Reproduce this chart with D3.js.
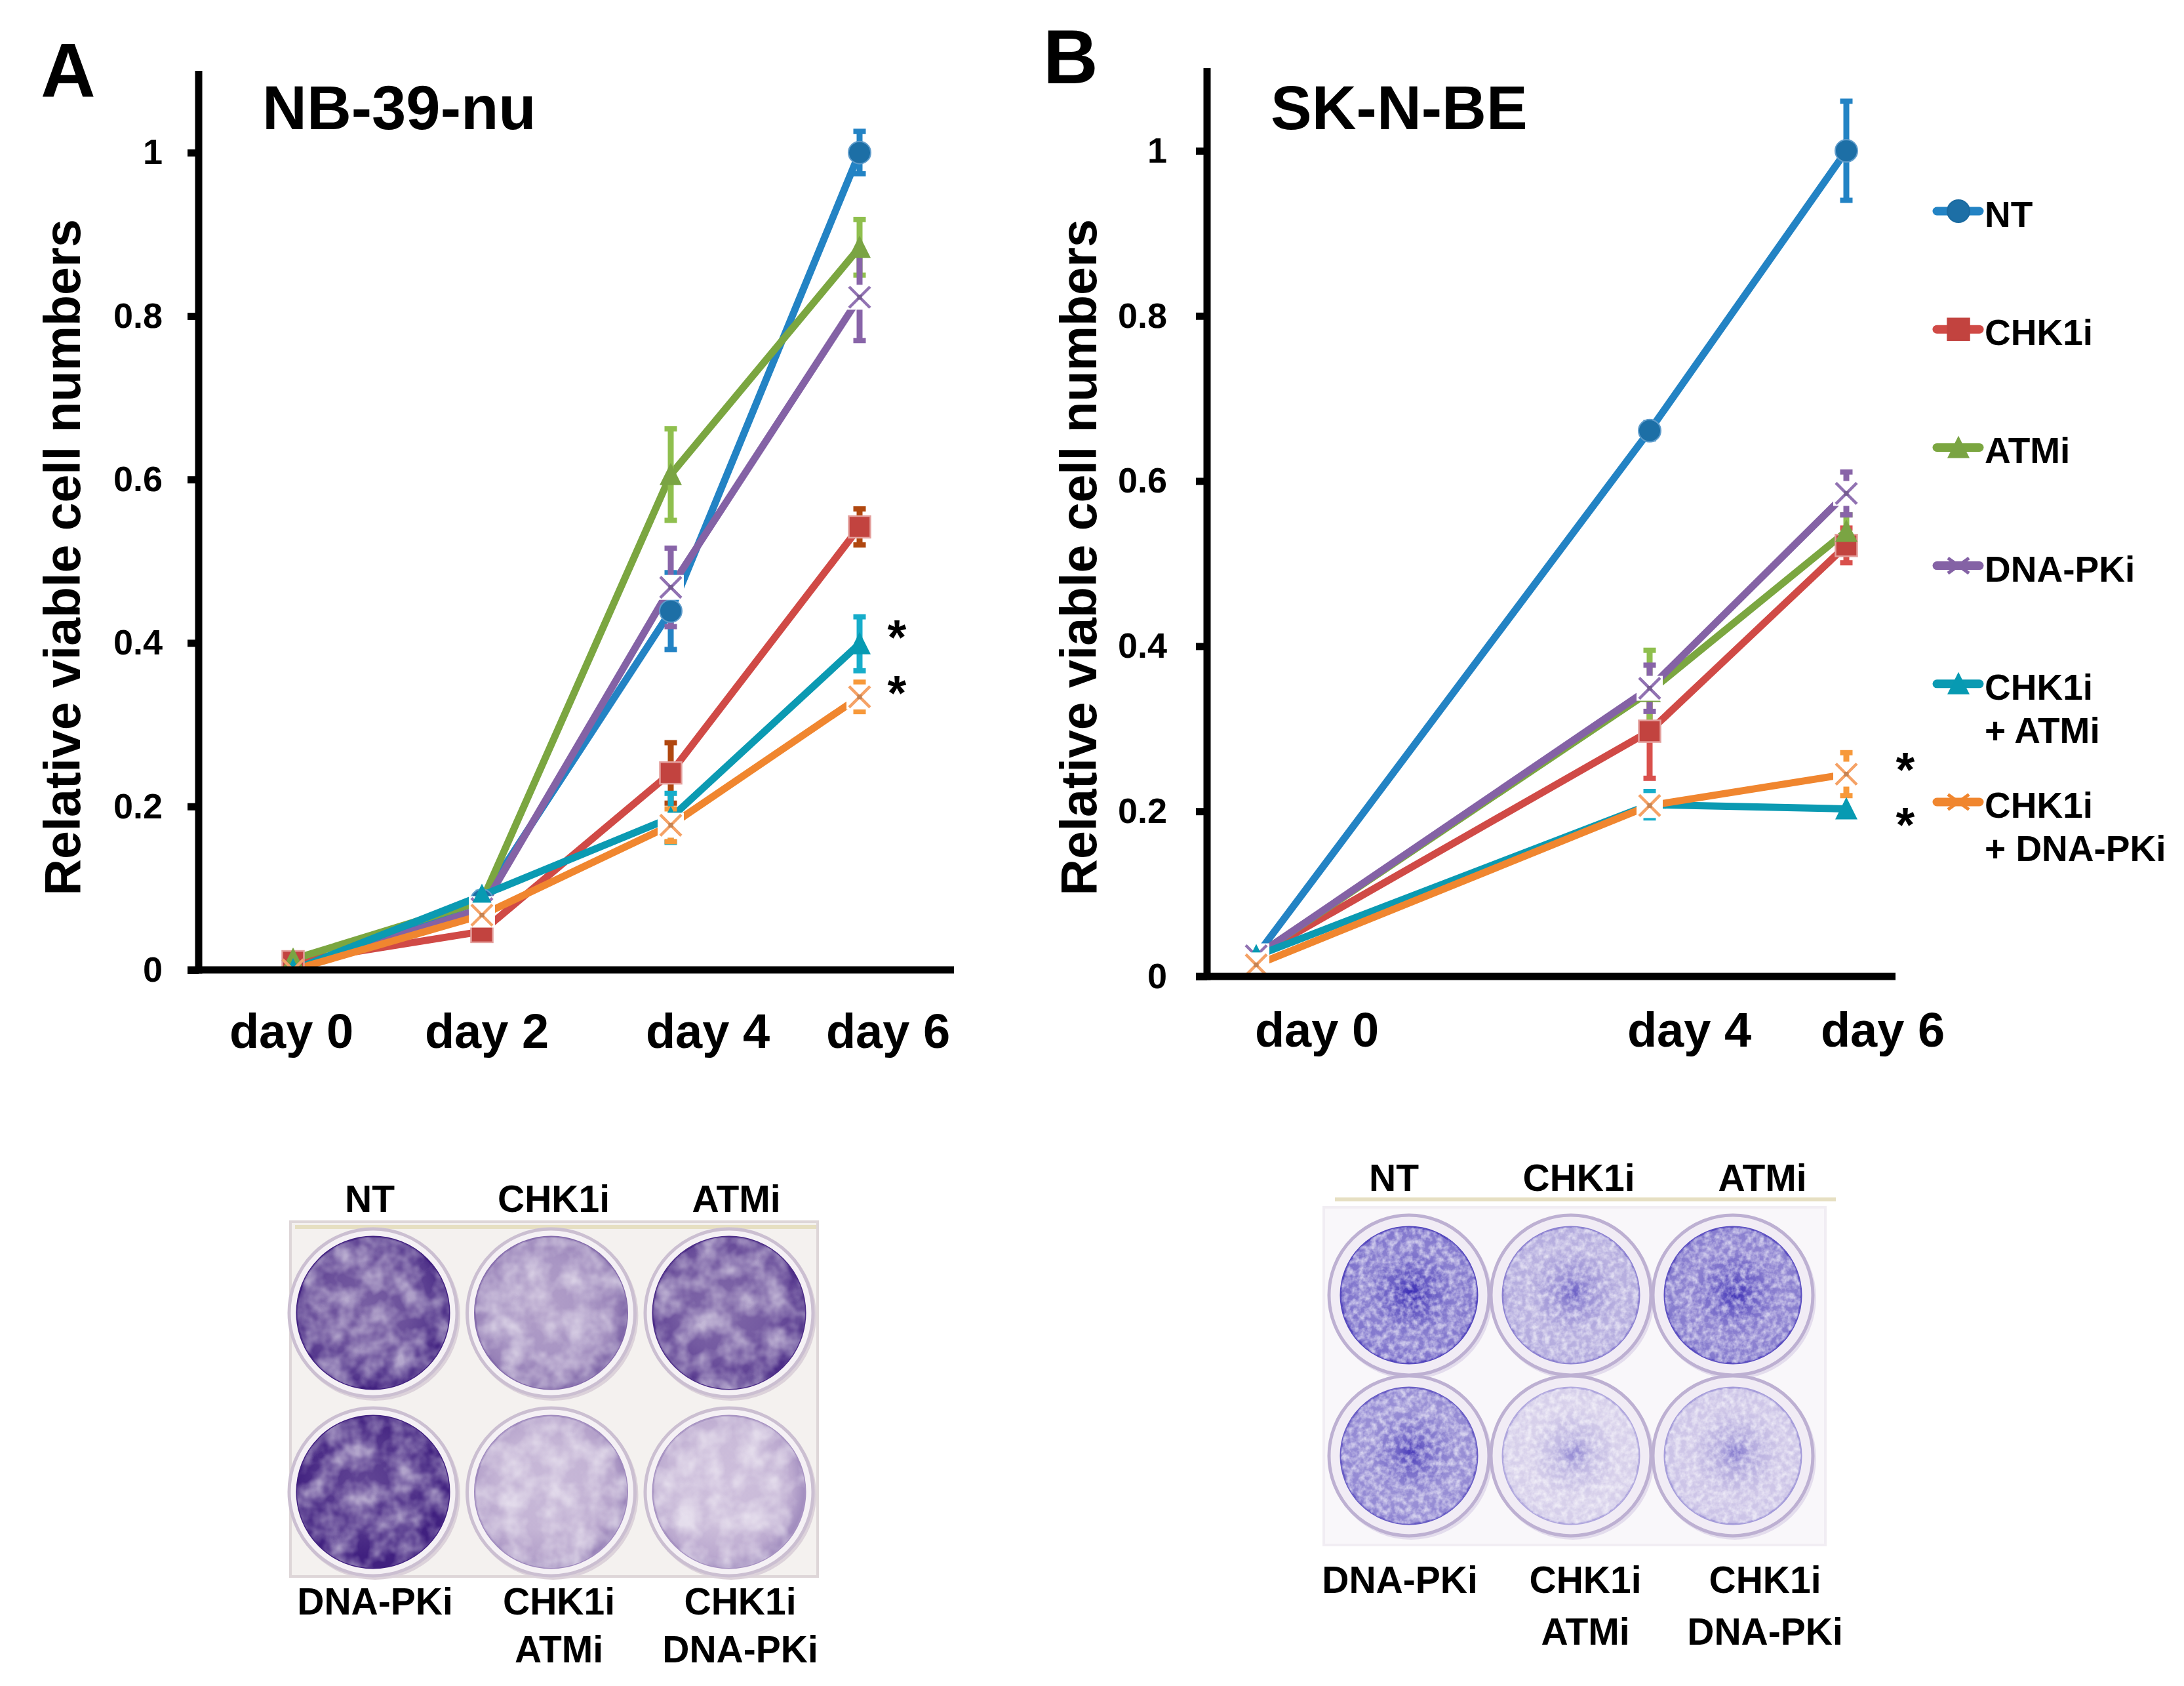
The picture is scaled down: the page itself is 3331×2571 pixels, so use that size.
<!DOCTYPE html>
<html><head><meta charset="utf-8">
<script src="https://cdn.jsdelivr.net/npm/d3@7"></script>
<style>
html,body{margin:0;padding:0;background:#fff;}
svg{display:block;}
text{font-family:"Liberation Sans",Arial,Helvetica,sans-serif;font-weight:bold;fill:#000;}
</style>
</head><body>
<svg id="c" width="3331" height="2571"></svg>
<script>
// ---------------- DATA ----------------
const seriesNames = ["NT", "CHK1i", "ATMi", "DNA-PKi", "CHK1i + ATMi", "CHK1i + DNA-PKi"];
const legendLines = [["NT"], ["CHK1i"], ["ATMi"], ["DNA-PKi"], ["CHK1i", "+ ATMi"], ["CHK1i", "+ DNA-PKi"]];
const yTicks = [0, 0.2, 0.4, 0.6, 0.8, 1];

// Panel A : NB-39-nu
const daysA = [0, 2, 4, 6];
const dayLabelsA = ["day 0", "day 2", "day 4", "day 6"];
const valuesA = [
  [0.000, 0.085, 0.439, 1.000],
  [0.010, 0.047, 0.241, 0.542],
  [0.013, 0.084, 0.606, 0.884],
  [0.000, 0.075, 0.468, 0.823],
  [0.000, 0.091, 0.186, 0.399],
  [0.000, 0.067, 0.177, 0.334]
];
const errorsA = [
  [0, 0, 0.047, 0.026],
  [0, 0.010, 0.037, 0.022],
  [0, 0, 0.056, 0.034],
  [0, 0, 0.048, 0.053],
  [0, 0.004, 0.030, 0.033],
  [0, 0, 0.020, 0.018]
];
const starsA = [4, 5];   // series marked significant at day 6

// Panel B : SK-N-BE
const daysB = [0, 4, 6];
const dayLabelsB = ["day 0", "day 4", "day 6"];
const valuesB = [
  [0.025, 0.661, 1.000],
  [0.025, 0.297, 0.522],
  [0.025, 0.345, 0.539],
  [0.025, 0.349, 0.585],
  [0.025, 0.208, 0.203],
  [0.014, 0.207, 0.245]
];
const errorsB = [
  [0, 0.010, 0.060],
  [0, 0.057, 0.021],
  [0, 0.050, 0.020],
  [0, 0.028, 0.026],
  [0.005, 0.016, 0],
  [0, 0, 0.026]
];
const starsB = [5, 4];

// crystal-violet plates (stain density, 0..1)
const wellTop = ["NT", "CHK1i", "ATMi"];
const wellBottom = [["DNA-PKi"], ["CHK1i", "ATMi"], ["CHK1i", "DNA-PKi"]];
const stainA = [[0.80, 0.42, 0.74], [0.95, 0.26, 0.22]];
const stainB = [[0.66, 0.36, 0.62], [0.55, 0.16, 0.22]];

// ---------------- STYLE ----------------
const lineColors   = ["#2383c4", "#d04a46", "#7ba640", "#8462a5", "#0b9ab2", "#f0862f"];
const markerColors = ["#1d6fa6", "#c2433f", "#7aa443", "#9172b2", "#079ab2", "#f5a266"];
const errColorsA   = ["#2383c4", "#b0470f", "#8fbf4e", "#8864a8", "#16adca", "#f7993a"];
const errColorsB   = ["#2383c4", "#d9504c", "#8fbf4e", "#8864a8", "#16adca", "#f7993a"];
const shapes = ["circle", "square", "triangle", "x", "triangle", "x"];

const svg = d3.select("#c");
svg.append("rect").attr("width", 3331).attr("height", 2571).attr("fill", "#fff");
const defs = svg.append("defs");

function fmtTick(d) { return (d === 0 || d === 1) ? String(d) : d.toFixed(1); }

function drawMarker(g, shape, cx, cy, color, legend, box) {
  if (shape === "circle") {
    g.append("circle").attr("cx", cx).attr("cy", cy).attr("r", 17).attr("fill", color)
      .attr("stroke", legend ? "#1a6aa0" : "#5f9ccb").attr("stroke-width", 2);
  } else if (shape === "square") {
    g.append("rect").attr("x", cx - 16.5).attr("y", cy - 16.5).attr("width", 33).attr("height", 33)
      .attr("fill", color).attr("stroke", legend ? "#c2433f" : "#e4a09d").attr("stroke-width", 2.5);
  } else if (shape === "triangle") {
    g.append("path").attr("d", `M${cx},${cy - 18}L${cx + 17},${cy + 16}L${cx - 17},${cy + 16}Z`)
      .attr("fill", color);
  } else {
    if (box) {
      g.append("rect").attr("x", cx - 20).attr("y", cy - 19).attr("width", 40).attr("height", 38).attr("fill", "#fff");
    }
    const s = 16, k = legend ? 0.72 : 1;
    g.append("path").attr("d", `M${cx - s},${cy - s * k}L${cx + s},${cy + s * k}M${cx - s},${cy + s * k}L${cx + s},${cy - s * k}`)
      .attr("stroke", color).attr("stroke-width", legend ? 5 : 4.5).attr("fill", "none");
    if (!legend) g.append("rect").attr("x", cx - 3.5).attr("y", cy - 3.5).attr("width", 7).attr("height", 7).attr("fill", d3.color(color).darker(0.6));
  }
}

function drawPanel(cfg) {
  const g = svg.append("g");
  const x = d3.scaleLinear().domain(cfg.xDomain).range([cfg.x0, cfg.x1]);
  const y = d3.scaleLinear().domain([0, 1.1]).range([cfg.yBottom, cfg.yTop]);

  // plot-area clip (marks are clipped at the x axis, as in the original)
  defs.append("clipPath").attr("id", cfg.id + "clip").append("rect")
    .attr("x", cfg.x0).attr("y", cfg.yTop - 60).attr("width", cfg.x1 - cfg.x0 + 60).attr("height", cfg.yBottom - cfg.yTop + 60);

  // panel letter and title
  g.append("text").attr("x", cfg.letter.x).attr("y", cfg.letter.y).attr("font-size", 116).text(cfg.letter.t);
  g.append("text").attr("x", cfg.title.x).attr("y", cfg.title.y).attr("font-size", 94).text(cfg.title.t);

  // y title
  g.append("text").attr("transform", `translate(${cfg.ylabelX},${cfg.ylabelY}) rotate(-90)`)
    .attr("text-anchor", "middle").attr("font-size", 77).text("Relative viable cell numbers");

  const plot = g.append("g").attr("clip-path", `url(#${cfg.id}clip)`);
  // lines
  const line = d3.line().x((d, i) => x(cfg.days[i])).y(d => y(d));
  cfg.values.forEach((vals, s) => {
    plot.append("path").datum(vals).attr("d", line).attr("fill", "none")
      .attr("stroke", lineColors[s]).attr("stroke-width", 11).attr("stroke-linejoin", "round");
  });
  // error bars
  cfg.values.forEach((vals, s) => {
    vals.forEach((v, i) => {
      const e = cfg.errors[s][i];
      if (!e) return;
      const cx = x(cfg.days[i]);
      const col = cfg.errColors[s];
      plot.append("line").attr("x1", cx).attr("x2", cx).attr("y1", y(v + e)).attr("y2", y(v - e))
        .attr("stroke", col).attr("stroke-width", 9);
      [v + e, v - e].forEach(t => {
        plot.append("line").attr("x1", cx - 9.5).attr("x2", cx + 9.5).attr("y1", y(t)).attr("y2", y(t))
          .attr("stroke", col).attr("stroke-width", 8);
      });
    });
  });
  // markers
  cfg.values.forEach((vals, s) => {
    vals.forEach((v, i) => drawMarker(plot, shapes[s], x(cfg.days[i]), y(v), markerColors[s], false, v > 0.005));
  });

  // y axis
  const ya = g.append("g").attr("transform", `translate(${cfg.x0},0)`)
    .call(d3.axisLeft(y).tickValues(yTicks).tickFormat(fmtTick).tickSize(17).tickPadding(cfg.tickPad));
  ya.select(".domain").remove();
  ya.selectAll(".tick line").attr("stroke", "#000").attr("stroke-width", 11);
  ya.selectAll(".tick text").attr("font-size", 54).attr("font-family", null).attr("fill", "#000");

  // x axis labels
  const xa = g.append("g").attr("transform", `translate(0,${cfg.yBottom})`)
    .call(d3.axisBottom(x).tickValues(cfg.days).tickSize(0).tickFormat((d, i) => cfg.dayLabels[i]));
  xa.select(".domain").remove();
  xa.selectAll(".tick text").attr("font-size", 74).attr("font-family", null).attr("fill", "#000")
    .attr("dy", 0).attr("y", cfg.labelBaseline - cfg.yBottom)
    .attr("dx", (d, i) => cfg.labelShift[i]);

  // axis lines
  g.append("line").attr("x1", cfg.x0).attr("x2", cfg.x0).attr("y1", cfg.yTop).attr("y2", cfg.yBottom + 5.5)
    .attr("stroke", "#000").attr("stroke-width", 11);
  g.append("line").attr("x1", cfg.x0 - 17).attr("x2", cfg.x1).attr("y1", cfg.yBottom).attr("y2", cfg.yBottom)
    .attr("stroke", "#000").attr("stroke-width", 11);

  // significance asterisks
  const last = cfg.days.length - 1;
  cfg.stars.forEach((s, k) => {
    g.append("text").attr("text-anchor", "middle").attr("font-size", 74)
      .attr("x", x(cfg.days[last]) + cfg.starDx)
      .attr("y", y(cfg.values[s][last]) + cfg.starDy[k] + 38).text("*");
  });
  return {x, y};
}

drawPanel({
  id: "pA", x0: 303, x1: 1455, yTop: 108, yBottom: 1479, xDomain: [-1, 7],
  days: daysA, dayLabels: dayLabelsA, values: valuesA, errors: errorsA, errColors: errColorsA,
  tickPad: 38, labelBaseline: 1598, labelShift: [-3, 7, 56, 43],
  ylabelX: 122, ylabelY: 850,
  letter: {x: 62, y: 148, t: "A"}, title: {x: 400, y: 197, t: "NB-39-nu"},
  stars: starsA, starDx: 57, starDy: [-23, -19]
});
drawPanel({
  id: "pB", x0: 1841, x1: 2891, yTop: 104, yBottom: 1489, xDomain: [-0.5, 6.5],
  days: daysB, dayLabels: dayLabelsB, values: valuesB, errors: errorsB, errColors: errColorsB,
  tickPad: 44, labelBaseline: 1596, labelShift: [92, 60, 55],
  ylabelX: 1672, ylabelY: 850,
  letter: {x: 1591, y: 127, t: "B"}, title: {x: 1938, y: 197, t: "SK-N-BE"},
  stars: starsB, starDx: 90, starDy: [-20, 12]
});

// legend
const lg = svg.append("g");
const ly = d3.scaleLinear().domain([0, 5]).range([322, 1223]);
seriesNames.forEach((name, s) => {
  const yy = ly(s);
  lg.append("line").attr("x1", 2954).attr("x2", 3019).attr("y1", yy).attr("y2", yy)
    .attr("stroke", lineColors[s]).attr("stroke-width", 13).attr("stroke-linecap", "round");
  drawMarker(lg, shapes[s], 2987, yy, shapes[s] === "x" ? lineColors[s] : markerColors[s], true, false);
  legendLines[s].forEach((t, k) => {
    lg.append("text").attr("x", 3027).attr("y", yy + 24 + k * 66).attr("font-size", 55).text(t);
  });
});

// ---------------- PLATES ----------------
function grainFilter(id, freq, seed, gain, bias) {
  const f = defs.append("filter").attr("id", id).attr("x", 0).attr("y", 0).attr("width", "100%").attr("height", "100%");
  f.append("feTurbulence").attr("type", "fractalNoise").attr("baseFrequency", freq).attr("numOctaves", 3)
    .attr("seed", seed).attr("result", "n");
  f.append("feColorMatrix").attr("in", "n").attr("type", "matrix")
    .attr("values", `0 0 0 0 1  0 0 0 0 1  0 0 0 0 1  ${gain} 0 0 0 ${bias}`).attr("result", "w");
  f.append("feComposite").attr("in", "w").attr("in2", "SourceGraphic").attr("operator", "in");
}
grainFilter("grainA", 0.03, 4, 1.9, -0.6);
grainFilter("grainB", 0.11, 9, 2.2, -0.75);

function drawPlate(cfg) {
  const g = svg.append("g");
  const cx = d3.scalePoint().domain([0, 1, 2]).range(cfg.cols);
  const cy = d3.scalePoint().domain([0, 1]).range(cfg.rows);
  const mix = d3.interpolateRgb(cfg.light, cfg.dark);

  g.append("rect").attr("x", cfg.box[0]).attr("y", cfg.box[1]).attr("width", cfg.box[2] - cfg.box[0])
    .attr("height", cfg.box[3] - cfg.box[1]).attr("fill", cfg.plateFill).attr("stroke", cfg.plateEdge).attr("stroke-width", 4);
  g.append("line").attr("x1", cfg.topLine[0]).attr("x2", cfg.topLine[1]).attr("y1", cfg.topLine[2]).attr("y2", cfg.topLine[2])
    .attr("stroke", "#e6dfc2").attr("stroke-width", 6);

  cfg.stain.forEach((row, r) => row.forEach((s, c) => {
    const X = cx(c), Y = cy(r);
    const id = `${cfg.id}_${r}_${c}`;
    const gr = defs.append("radialGradient").attr("id", id).attr("cx", cfg.spot ? "52%" : "45%").attr("cy", cfg.spot ? "48%" : "45%").attr("r", "55%");
    const stops = cfg.spot
      ? [[0, Math.min(1, s + 0.38)], [0.22, Math.min(1, s + 0.12)], [0.6, s * 0.85], [0.9, s * 0.95], [1, Math.min(1, s + 0.1)]]
      : [[0, s * 0.85], [0.55, s * 0.95], [0.85, Math.min(1, s + 0.08)], [1, Math.min(1, s + 0.22)]];
    stops.forEach(([o, v]) => gr.append("stop").attr("offset", o).attr("stop-color", mix(v)));

    g.append("circle").attr("cx", X + 3).attr("cy", Y + 4).attr("r", cfg.r + 2).attr("fill", cfg.rimShadow);
    g.append("circle").attr("cx", X).attr("cy", Y).attr("r", cfg.r).attr("fill", cfg.rimFill)
      .attr("stroke", cfg.rimStroke).attr("stroke-width", 5);
    g.append("circle").attr("cx", X).attr("cy", Y).attr("r", cfg.rIn).attr("fill", `url(#${id})`)
      .attr("stroke", mix(Math.min(1, s + 0.2))).attr("stroke-width", 3);
    g.append("circle").attr("cx", X).attr("cy", Y).attr("r", cfg.rIn).attr("fill", "#fff")
      .attr("opacity", cfg.grainOpacity).attr("filter", `url(#${cfg.grain})`);
  }));

  wellTop.forEach((t, c) => {
    g.append("text").attr("x", cx(c) + cfg.topShift[c]).attr("y", cfg.topBase).attr("text-anchor", "middle")
      .attr("font-size", 57).text(t);
  });
  wellBottom.forEach((lines, c) => {
    lines.forEach((t, k) => {
      g.append("text").attr("x", cx(c) + cfg.botShift[c]).attr("y", cfg.botBase[k]).attr("text-anchor", "middle")
        .attr("font-size", 57).text(t);
    });
  });
}

drawPlate({
  id: "pa", stain: stainA, cols: [569, 1112], rows: [2002, 2275], r: 128, rIn: 116,
  box: [443, 1863, 1247, 2404], plateFill: "#f4f1ef", plateEdge: "#ded6d8", topLine: [450, 1245, 1871],
  rimFill: "#f5f1f5", rimStroke: "#cbbfd1", rimShadow: "#dcd2da",
  light: "#efe4f1", dark: "#40207f", spot: false, grain: "grainA", grainOpacity: 0.55,
  topShift: [-5, 4, 11], topBase: 1848, botShift: [3, 12, 17], botBase: [2462, 2535]
});
drawPlate({
  id: "pb", stain: stainB, cols: [2149, 2643], rows: [1975, 2220], r: 122, rIn: 104,
  box: [2019, 1841, 2784, 2356], plateFill: "#f9f7fa", plateEdge: "#f1edf3", topLine: [2036, 2800, 1829],
  rimFill: "#f1ecf5", rimStroke: "#bdb0d2", rimShadow: "#e4dded",
  light: "#f1ebf4", dark: "#3a2cb4", spot: true, grain: "grainB", grainOpacity: 0.6,
  topShift: [-23, 12, 45], topBase: 1816, botShift: [-14, 22, 49], botBase: [2429, 2508]
});
</script>
</body></html>
